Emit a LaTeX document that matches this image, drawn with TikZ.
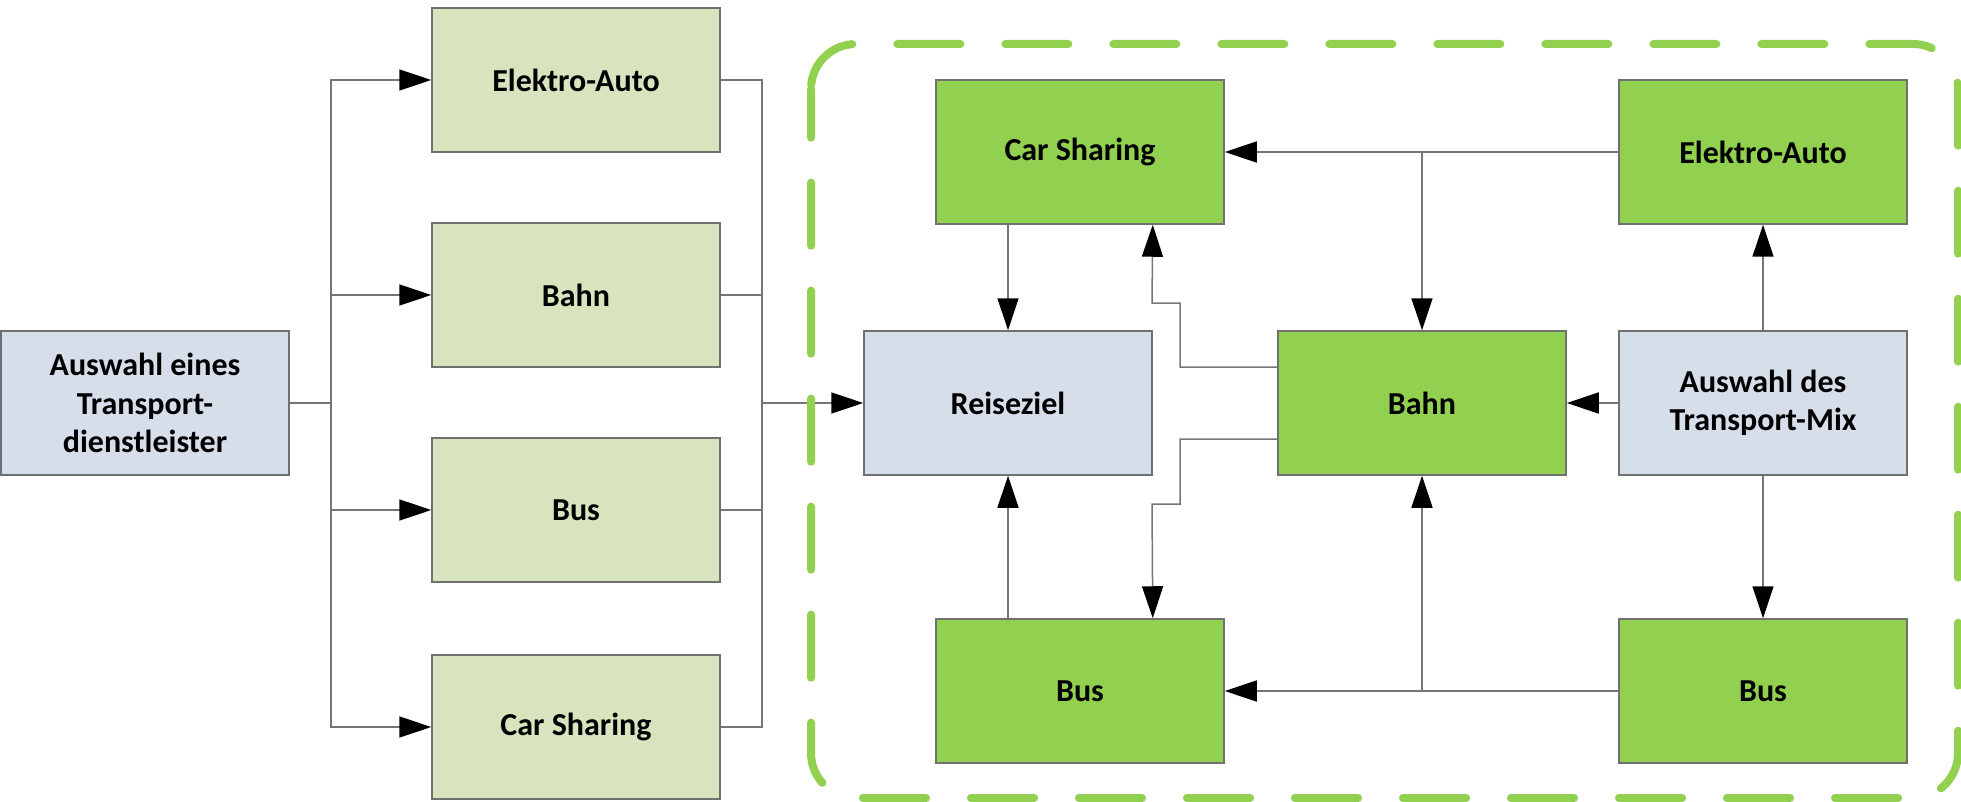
\documentclass[tikz,border=0pt]{standalone}
\usepackage{fontspec}
\setmainfont{Carlito}
\usetikzlibrary{arrows.meta}
\definecolor{lblue}{RGB}{214,222,234}
\definecolor{lgreen}{RGB}{215,228,189}
\definecolor{mgreen}{RGB}{146,208,80}
\definecolor{bordergray}{RGB}{112,112,112}
\definecolor{linegray}{RGB}{118,118,118}
\tikzset{
  box/.style={draw=bordergray, line width=1.5pt, minimum width=288pt, minimum height=144pt,
    inner sep=0pt, align=center, font=\fontsize{32}{38.5}\selectfont\bfseries},
  bluebox/.style={box, fill=lblue},
  palebox/.style={box, fill=lgreen},
  greenbox/.style={box, fill=mgreen},
  conn/.style={draw=linegray, line width=1.5pt},
  arr/.style={conn, -{Triangle[length=32pt, width=21pt, fill=black, color=black]}},
  frame/.style={draw=mgreen, line width=8pt, line cap=round, rounded corners=45pt,
    dash pattern=on 63pt off 45pt, dash phase=104pt}
}
\begin{document}
\begin{tikzpicture}[x=1pt, y=-1pt]
\useasboundingbox (0,0) rectangle (1961,802);
% left part
\node[bluebox] (A) at (145,403) {Auswahl eines\\Transport-\\dienstleister};
\node[palebox] (LE) at (576,80) {Elektro-Auto};
\node[palebox] (LB) at (576,295) {Bahn};
\node[palebox] (LBu) at (576,510) {Bus};
\node[palebox] (LC) at (576,727) {Car Sharing};
% right part
\node[greenbox] (RC) at (1080,152) {Car Sharing};
\node[greenbox] (RE) at (1763,152) {Elektro-Auto};
\node[bluebox] (RZ) at (1008,403) {Reiseziel};
\node[greenbox] (RB) at (1422,403) {Bahn};
\node[bluebox] (RM) at (1763,403) {Auswahl des\\Transport-Mix};
\node[greenbox] (RBu) at (1080,691) {Bus};
\node[greenbox] (RBr) at (1763,691) {Bus};
% left connectors
\coordinate (tl) at (331,403);
\coordinate (tr) at (762,403);
\draw[conn] (A.east) -- (tl);
\foreach \n in {LE,LB,LBu,LC} \draw[arr] (tl) |- (\n.west);
\foreach \n in {LE,LB,LBu,LC} \draw[conn] (\n.east) -| (tr);
\draw[arr] (tr) -- (RZ.west);
% right connectors
\draw[arr] (RE.west) -- (RC.east);
\draw[arr] (RB.north |- RE.west) -- (RB.north);
\draw[arr] (RZ.north |- RC.south) -- (RZ.north);
\draw[arr] (RZ.south |- RBu.north) -- (RZ.south);
\coordinate (bw1) at ([yshift=36pt]RB.west);
\coordinate (bw2) at ([yshift=-36pt]RB.west);
\draw[arr] (bw1) -- (1180,367) -- (1180,303) -- (1152,303) -- (RZ.east |- RC.south);
\draw[arr] (bw2) -- (1180,439) -- (1180,504) -- (1152,504) -- (RZ.east |- RBu.north);
\draw[arr] (RM.west) -- (RB.east);
\draw[arr] (RM.north) -- (RE.south);
\draw[arr] (RM.south) -- (RBr.north);
\draw[arr] (RBr.west) -- (RBu.east);
\draw[arr] (RB.south |- RBr.west) -- (RB.south);
% dashed frame
\draw[frame] (811,89) -- (811,44) -- (1958,44) -- (1958,798) -- (811,798) -- (811,89);
\end{tikzpicture}
\end{document}
